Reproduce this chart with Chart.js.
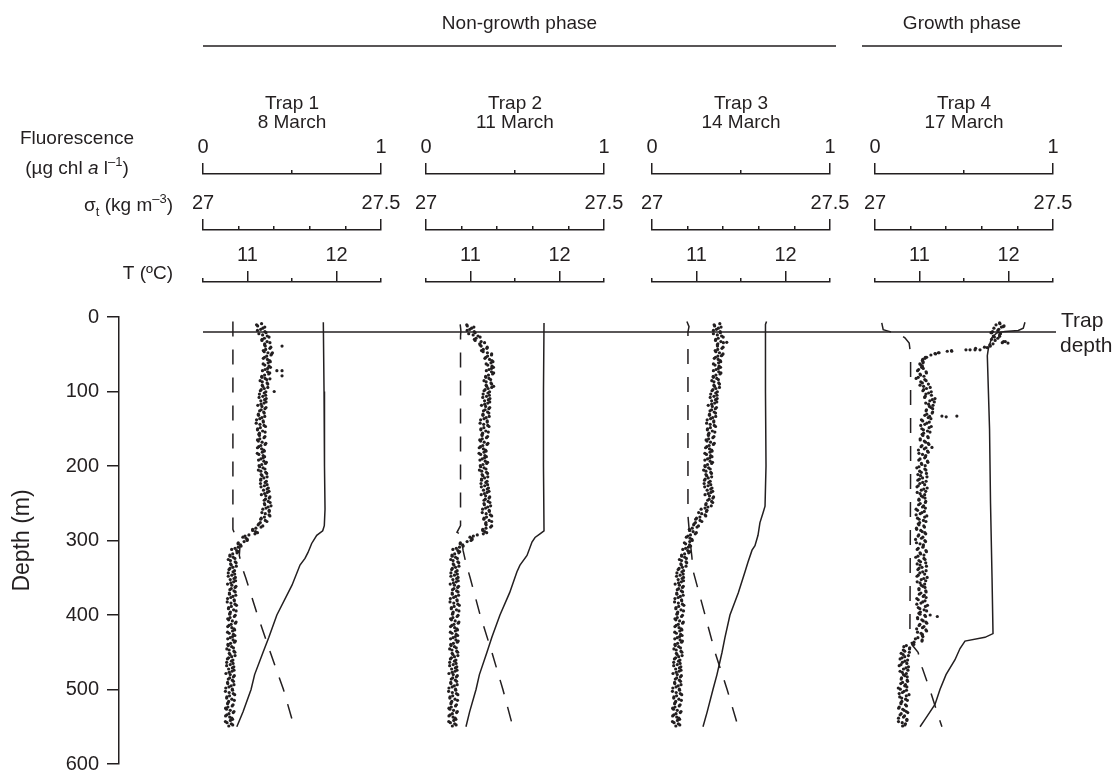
<!DOCTYPE html>
<html>
<head>
<meta charset="utf-8">
<script src="https://cdn.jsdelivr.net/npm/chart.js@4.4.1/dist/chart.umd.min.js"></script>
<style>
  html, body { margin: 0; padding: 0; background: #ffffff; }
  canvas { display: block; }
</style>
</head>
<body>
<canvas id="chart" width="1118" height="784"></canvas>
<script>
const FONT = '"Liberation Sans", Arial, Helvetica, sans-serif';
const INK = '#231f20';

// ---- axes and labels ----
const depthTicks = [0, 100, 200, 300, 400, 500, 600];
const trapDepth = 20;
const phaseNames = ['Non-growth phase', 'Growth phase'];
const trapNames = ['Trap 1', 'Trap 2', 'Trap 3', 'Trap 4'];
const trapDates = ['8 March', '11 March', '14 March', '17 March'];
const fluorTicks = [0, 0.5, 1];
const fluorLabelled = [0, 1];
const sigmaTicks = [27, 27.1, 27.2, 27.3, 27.4, 27.5];
const sigmaLabelled = [27, 27.5];
const tempTicks = [10.5, 11, 11.5, 12, 12.5];
const tempLabelled = [11, 12];

// ---- fluorescence profiles (µg chl a l-1) ----
// readings A: 3 m bins starting at 9 m
const fluorDepthsA = [
  9, 12, 15, 18, 21, 24, 27, 30, 33, 36,
  39, 42, 45, 48, 51, 54, 57, 60, 63, 66,
  69, 72, 75, 78, 81, 84, 87, 90, 93, 96,
  99, 102, 105, 108, 111, 114, 117, 120, 123, 126,
  129, 132, 135, 138, 141, 144, 147, 150, 153, 156,
  159, 162, 165, 168, 171, 174, 177, 180, 183, 186,
  189, 192, 195, 198, 201, 204, 207, 210, 213, 216,
  219, 222, 225, 228, 231, 234, 237, 240, 243, 246,
  249, 252, 255, 258, 261, 264, 267, 270, 273, 276,
  279, 282, 285, 288, 291, 294, 297, 300, 303, 306,
  309, 312, 315, 318, 321, 324, 327, 330, 333, 336,
  339, 342, 345, 348, 351, 354, 357, 360, 363, 366,
  369, 372, 375, 378, 381, 384, 387, 390, 393, 396,
  399, 402, 405, 408, 411, 414, 417, 420, 423, 426,
  429, 432, 435, 438, 441, 444, 447, 450, 453, 456,
  459, 462, 465, 468, 471, 474, 477, 480, 483, 486,
  489, 492, 495, 498, 501, 504, 507, 510, 513, 516,
  519, 522, 525, 528, 531, 534, 537, 540, 543, 546,
  549
];
// readings B: the interleaved 3 m bins
const fluorDepthsB = [
  10.5, 13.5, 16.5, 19.5, 22.5, 25.5, 28.5, 31.5, 34.5, 37.5,
  40.5, 43.5, 46.5, 49.5, 52.5, 55.5, 58.5, 61.5, 64.5, 67.5,
  70.5, 73.5, 76.5, 79.5, 82.5, 85.5, 88.5, 91.5, 94.5, 97.5,
  100.5, 103.5, 106.5, 109.5, 112.5, 115.5, 118.5, 121.5, 124.5, 127.5,
  130.5, 133.5, 136.5, 139.5, 142.5, 145.5, 148.5, 151.5, 154.5, 157.5,
  160.5, 163.5, 166.5, 169.5, 172.5, 175.5, 178.5, 181.5, 184.5, 187.5,
  190.5, 193.5, 196.5, 199.5, 202.5, 205.5, 208.5, 211.5, 214.5, 217.5,
  220.5, 223.5, 226.5, 229.5, 232.5, 235.5, 238.5, 241.5, 244.5, 247.5,
  250.5, 253.5, 256.5, 259.5, 262.5, 265.5, 268.5, 271.5, 274.5, 277.5,
  280.5, 283.5, 286.5, 289.5, 292.5, 295.5, 298.5, 301.5, 304.5, 307.5,
  310.5, 313.5, 316.5, 319.5, 322.5, 325.5, 328.5, 331.5, 334.5, 337.5,
  340.5, 343.5, 346.5, 349.5, 352.5, 355.5, 358.5, 361.5, 364.5, 367.5,
  370.5, 373.5, 376.5, 379.5, 382.5, 385.5, 388.5, 391.5, 394.5, 397.5,
  400.5, 403.5, 406.5, 409.5, 412.5, 415.5, 418.5, 421.5, 424.5, 427.5,
  430.5, 433.5, 436.5, 439.5, 442.5, 445.5, 448.5, 451.5, 454.5, 457.5,
  460.5, 463.5, 466.5, 469.5, 472.5, 475.5, 478.5, 481.5, 484.5, 487.5,
  490.5, 493.5, 496.5, 499.5, 502.5, 505.5, 508.5, 511.5, 514.5, 517.5,
  520.5, 523.5, 526.5, 529.5, 532.5, 535.5, 538.5, 541.5, 544.5, 547.5
];

const trap1FluorA = [
  0.329, 0.307, 0.336, 0.306, 0.354, 0.335, 0.371, 0.332, 0.360, 0.347,
  0.350, 0.376, 0.339, 0.365, 0.382, 0.346, 0.362, 0.378, 0.338, 0.371,
  0.363, 0.334, 0.375, 0.346, 0.331, 0.358, 0.333, 0.364, 0.336, 0.344,
  0.322, 0.344, 0.352, 0.315, 0.346, 0.354, 0.326, 0.331, 0.348, 0.318,
  0.344, 0.312, 0.331, 0.301, 0.339, 0.320, 0.351, 0.307, 0.335, 0.317,
  0.317, 0.343, 0.306, 0.332, 0.349, 0.313, 0.329, 0.345, 0.305, 0.338,
  0.338, 0.312, 0.356, 0.330, 0.318, 0.348, 0.325, 0.358, 0.332, 0.342,
  0.324, 0.349, 0.360, 0.326, 0.360, 0.371, 0.346, 0.353, 0.372, 0.344,
  0.377, 0.347, 0.366, 0.336, 0.372, 0.350, 0.376, 0.327, 0.350, 0.322,
  0.310, 0.326, 0.279, 0.295, 0.292, 0.236, 0.242, 0.248, 0.198, 0.211,
  0.198, 0.161, 0.199, 0.167, 0.152, 0.179, 0.154, 0.186, 0.159, 0.168,
  0.146, 0.169, 0.178, 0.142, 0.174, 0.183, 0.156, 0.162, 0.180, 0.151,
  0.181, 0.149, 0.168, 0.138, 0.176, 0.157, 0.188, 0.144, 0.172, 0.154,
  0.150, 0.176, 0.139, 0.165, 0.182, 0.146, 0.162, 0.178, 0.138, 0.171,
  0.166, 0.139, 0.182, 0.155, 0.142, 0.171, 0.147, 0.179, 0.152, 0.161,
  0.137, 0.160, 0.169, 0.133, 0.165, 0.174, 0.147, 0.153, 0.171, 0.142,
  0.171, 0.139, 0.158, 0.128, 0.166, 0.147, 0.178, 0.134, 0.162, 0.144,
  0.138, 0.164, 0.127, 0.153, 0.170, 0.134, 0.150, 0.166, 0.126, 0.159,
  0.145
];
const trap1FluorB = [
  0.301, 0.347, 0.324, 0.348, 0.314, 0.361, 0.345, 0.331, 0.376, 0.346,
  0.381, 0.352, 0.344, 0.386, 0.358, 0.339, 0.374, 0.366, 0.347, 0.379,
  0.349, 0.363, 0.369, 0.330, 0.349, 0.321, 0.360, 0.333, 0.364, 0.327,
  0.353, 0.317, 0.336, 0.355, 0.325, 0.343, 0.308, 0.354, 0.327, 0.341,
  0.311, 0.347, 0.319, 0.338, 0.299, 0.343, 0.322, 0.306, 0.349, 0.314,
  0.348, 0.319, 0.311, 0.353, 0.325, 0.306, 0.341, 0.333, 0.314, 0.346,
  0.325, 0.342, 0.351, 0.315, 0.337, 0.311, 0.352, 0.327, 0.360, 0.325,
  0.356, 0.323, 0.345, 0.367, 0.340, 0.361, 0.328, 0.376, 0.351, 0.367,
  0.345, 0.382, 0.354, 0.372, 0.331, 0.371, 0.345, 0.324, 0.359, 0.314,
  0.336, 0.297, 0.279, 0.306, 0.258, 0.224, 0.249, 0.231, 0.197, 0.214,
  0.180, 0.189, 0.191, 0.151, 0.170, 0.142, 0.181, 0.155, 0.187, 0.151,
  0.177, 0.142, 0.162, 0.182, 0.153, 0.172, 0.138, 0.185, 0.159, 0.174,
  0.148, 0.184, 0.156, 0.175, 0.136, 0.180, 0.159, 0.143, 0.186, 0.151,
  0.181, 0.152, 0.144, 0.186, 0.158, 0.139, 0.174, 0.166, 0.147, 0.179,
  0.153, 0.169, 0.177, 0.140, 0.161, 0.134, 0.174, 0.148, 0.180, 0.144,
  0.168, 0.133, 0.153, 0.173, 0.144, 0.163, 0.129, 0.176, 0.150, 0.165,
  0.138, 0.174, 0.146, 0.165, 0.126, 0.170, 0.149, 0.133, 0.176, 0.141,
  0.169, 0.140, 0.132, 0.174, 0.146, 0.127, 0.162, 0.154, 0.135, 0.167
];

const trap2FluorA = [
  null,  0.232, 0.256, 0.231, 0.276, 0.265, 0.304, 0.272, 0.310, 0.302,
  0.310, 0.342, 0.312, 0.345, 0.368, 0.336, 0.357, 0.376, 0.338, 0.371,
  0.368, 0.339, 0.380, 0.351, 0.336, 0.363, 0.338, 0.369, 0.341, 0.349,
  0.326, 0.348, 0.356, 0.319, 0.350, 0.358, 0.330, 0.335, 0.353, 0.323,
  0.353, 0.320, 0.338, 0.307, 0.344, 0.324, 0.354, 0.309, 0.336, 0.318,
  0.315, 0.340, 0.302, 0.327, 0.343, 0.306, 0.322, 0.338, 0.298, 0.331,
  0.329, 0.303, 0.346, 0.320, 0.307, 0.337, 0.313, 0.346, 0.319, 0.329,
  0.312, 0.336, 0.346, 0.311, 0.344, 0.354, 0.328, 0.335, 0.354, 0.326,
  0.359, 0.328, 0.347, 0.318, 0.356, 0.338, 0.369, 0.326, 0.355, 0.337,
  0.338, 0.363, 0.319, 0.330, 0.322, 0.266, 0.257, 0.253, 0.193, 0.206,
  0.188, 0.151, 0.189, 0.161, 0.147, 0.176, 0.152, 0.184, 0.157, 0.166,
  0.144, 0.167, 0.176, 0.140, 0.172, 0.181, 0.154, 0.160, 0.178, 0.149,
  0.180, 0.148, 0.167, 0.137, 0.175, 0.156, 0.187, 0.143, 0.171, 0.153,
  0.149, 0.175, 0.138, 0.164, 0.181, 0.145, 0.161, 0.177, 0.137, 0.170,
  0.165, 0.138, 0.181, 0.154, 0.141, 0.170, 0.146, 0.178, 0.151, 0.160,
  0.137, 0.160, 0.169, 0.133, 0.165, 0.174, 0.147, 0.153, 0.171, 0.142,
  0.172, 0.140, 0.159, 0.129, 0.167, 0.148, 0.179, 0.135, 0.163, 0.145,
  0.140, 0.166, 0.129, 0.155, 0.172, 0.136, 0.152, 0.168, 0.128, 0.161,
  0.148
];
const trap2FluorB = [
  0.229, 0.269, 0.246, 0.271, 0.240, 0.292, 0.281, 0.276, 0.329, 0.304,
  0.344, 0.322, 0.321, 0.369, 0.346, 0.331, 0.370, 0.365, 0.347, 0.379,
  0.354, 0.368, 0.374, 0.335, 0.354, 0.326, 0.365, 0.338, 0.369, 0.332,
  0.357, 0.321, 0.340, 0.359, 0.329, 0.347, 0.312, 0.358, 0.332, 0.346,
  0.320, 0.355, 0.326, 0.344, 0.304, 0.347, 0.325, 0.308, 0.350, 0.315,
  0.346, 0.316, 0.307, 0.348, 0.319, 0.299, 0.334, 0.326, 0.307, 0.339,
  0.316, 0.333, 0.341, 0.305, 0.326, 0.300, 0.340, 0.315, 0.347, 0.312,
  0.343, 0.309, 0.330, 0.351, 0.323, 0.343, 0.310, 0.358, 0.333, 0.349,
  0.326, 0.363, 0.335, 0.355, 0.316, 0.361, 0.340, 0.325, 0.369, 0.335,
  0.369, 0.337, 0.319, 0.341, 0.288, 0.247, 0.259, 0.231, 0.192, 0.209,
  0.170, 0.179, 0.184, 0.146, 0.166, 0.139, 0.179, 0.153, 0.185, 0.148,
  0.175, 0.140, 0.160, 0.180, 0.151, 0.170, 0.136, 0.183, 0.157, 0.172,
  0.147, 0.183, 0.155, 0.174, 0.135, 0.179, 0.158, 0.142, 0.185, 0.150,
  0.180, 0.151, 0.143, 0.185, 0.157, 0.138, 0.173, 0.165, 0.146, 0.178,
  0.152, 0.168, 0.176, 0.139, 0.160, 0.133, 0.173, 0.147, 0.179, 0.143,
  0.168, 0.133, 0.153, 0.173, 0.144, 0.163, 0.129, 0.176, 0.150, 0.165,
  0.139, 0.175, 0.147, 0.166, 0.127, 0.171, 0.150, 0.134, 0.177, 0.142,
  0.171, 0.142, 0.134, 0.176, 0.148, 0.129, 0.164, 0.156, 0.137, 0.169
];

const trap3FluorA = [
  0.381, 0.352, 0.373, 0.345, 0.384, 0.367, 0.400, 0.358, 0.387, 0.370,
  0.368, 0.393, 0.355, 0.379, 0.394, 0.357, 0.372, 0.386, 0.345, 0.377,
  0.373, 0.345, 0.387, 0.359, 0.345, 0.373, 0.348, 0.379, 0.351, 0.359,
  0.337, 0.358, 0.365, 0.327, 0.357, 0.364, 0.335, 0.339, 0.356, 0.326,
  0.357, 0.323, 0.341, 0.310, 0.347, 0.327, 0.357, 0.312, 0.339, 0.320,
  0.317, 0.342, 0.304, 0.329, 0.345, 0.308, 0.323, 0.338, 0.297, 0.329,
  0.325, 0.297, 0.340, 0.312, 0.299, 0.327, 0.303, 0.334, 0.307, 0.316,
  0.295, 0.319, 0.330, 0.296, 0.330, 0.341, 0.316, 0.323, 0.342, 0.313,
  0.341, 0.302, 0.314, 0.276, 0.306, 0.279, 0.302, 0.250, 0.270, 0.244,
  0.234, 0.253, 0.210, 0.231, 0.243, 0.202, 0.214, 0.226, 0.182, 0.211,
  0.204, 0.173, 0.213, 0.183, 0.167, 0.193, 0.166, 0.195, 0.165, 0.171,
  0.147, 0.168, 0.175, 0.138, 0.169, 0.177, 0.149, 0.154, 0.171, 0.142,
  0.172, 0.140, 0.159, 0.129, 0.167, 0.148, 0.179, 0.135, 0.163, 0.145,
  0.140, 0.166, 0.129, 0.155, 0.172, 0.136, 0.152, 0.168, 0.128, 0.161,
  0.155, 0.128, 0.171, 0.144, 0.131, 0.160, 0.136, 0.168, 0.141, 0.150,
  0.126, 0.149, 0.158, 0.122, 0.154, 0.163, 0.136, 0.142, 0.160, 0.131,
  0.160, 0.128, 0.147, 0.117, 0.155, 0.136, 0.167, 0.123, 0.151, 0.133,
  0.127, 0.153, 0.116, 0.142, 0.159, 0.123, 0.139, 0.155, 0.115, 0.148,
  0.134
];
const trap3FluorB = [
  0.349, 0.388, 0.362, 0.383, 0.345, 0.391, 0.372, 0.357, 0.401, 0.367,
  0.399, 0.369, 0.359, 0.399, 0.370, 0.350, 0.383, 0.374, 0.354, 0.385,
  0.360, 0.375, 0.382, 0.344, 0.364, 0.336, 0.375, 0.348, 0.379, 0.342,
  0.367, 0.330, 0.348, 0.366, 0.335, 0.352, 0.316, 0.362, 0.335, 0.349,
  0.323, 0.358, 0.329, 0.347, 0.307, 0.350, 0.328, 0.311, 0.353, 0.317,
  0.348, 0.318, 0.309, 0.350, 0.321, 0.301, 0.335, 0.326, 0.306, 0.337,
  0.312, 0.327, 0.335, 0.297, 0.318, 0.290, 0.330, 0.303, 0.335, 0.299,
  0.327, 0.293, 0.315, 0.337, 0.310, 0.331, 0.298, 0.346, 0.321, 0.335,
  0.304, 0.333, 0.298, 0.309, 0.262, 0.298, 0.269, 0.245, 0.280, 0.237,
  0.261, 0.226, 0.212, 0.249, 0.216, 0.193, 0.224, 0.212, 0.189, 0.217,
  0.189, 0.201, 0.206, 0.166, 0.184, 0.154, 0.191, 0.162, 0.191, 0.152,
  0.177, 0.140, 0.158, 0.177, 0.147, 0.165, 0.130, 0.176, 0.150, 0.164,
  0.139, 0.175, 0.147, 0.166, 0.127, 0.171, 0.150, 0.134, 0.177, 0.142,
  0.171, 0.142, 0.134, 0.176, 0.148, 0.129, 0.164, 0.156, 0.137, 0.169,
  0.142, 0.158, 0.166, 0.129, 0.150, 0.123, 0.163, 0.137, 0.169, 0.133,
  0.157, 0.122, 0.142, 0.162, 0.133, 0.152, 0.118, 0.165, 0.139, 0.154,
  0.127, 0.163, 0.135, 0.154, 0.115, 0.159, 0.138, 0.122, 0.165, 0.130,
  0.158, 0.129, 0.121, 0.163, 0.135, 0.116, 0.151, 0.143, 0.124, 0.156
];

const trap4FluorA = [
  0.702, 0.725, 0.668, 0.690, 0.652, 0.700, 0.671, 0.655, 0.722, 0.663,
  0.648, 0.565, 0.430, 0.356, 0.314, 0.283, 0.268, 0.270, 0.252, 0.266,
  0.271, 0.239, 0.289, 0.256, 0.243, 0.280, 0.257, 0.300, 0.273, 0.289,
  0.269, 0.301, 0.317, 0.279, 0.322, 0.333, 0.301, 0.306, 0.324, 0.287,
  0.321, 0.280, 0.299, 0.261, 0.305, 0.280, 0.316, 0.263, 0.295, 0.273,
  0.269, 0.299, 0.254, 0.284, 0.303, 0.259, 0.277, 0.295, 0.247, 0.285,
  0.279, 0.246, 0.297, 0.263, 0.247, 0.280, 0.251, 0.289, 0.256, 0.267,
  0.241, 0.268, 0.279, 0.236, 0.274, 0.285, 0.253, 0.260, 0.281, 0.247,
  0.283, 0.245, 0.267, 0.231, 0.277, 0.254, 0.291, 0.239, 0.272, 0.251,
  0.247, 0.278, 0.234, 0.265, 0.285, 0.242, 0.261, 0.280, 0.233, 0.272,
  0.269, 0.237, 0.289, 0.256, 0.241, 0.275, 0.247, 0.285, 0.253, 0.264,
  0.241, 0.268, 0.279, 0.236, 0.274, 0.285, 0.253, 0.260, 0.281, 0.247,
  0.287, 0.249, 0.271, 0.235, 0.281, 0.258, 0.295, 0.243, 0.276, 0.255,
  0.253, 0.284, 0.240, 0.271, 0.291, 0.248, 0.267, 0.286, 0.239, 0.266,
  0.269, 0.227, 0.264, 0.211, 0.176, 0.195, 0.159, 0.193, 0.158, 0.167,
  0.141, 0.168, 0.179, 0.136, 0.174, 0.185, 0.153, 0.160, 0.181, 0.147,
  0.183, 0.145, 0.167, 0.131, 0.177, 0.154, 0.191, 0.139, 0.172, 0.151,
  0.146, 0.177, 0.133, 0.164, 0.184, 0.141, 0.160, 0.179, 0.132, 0.171,
  0.155
];
const trap4FluorB = [
  0.680, 0.710, 0.695, 0.660, 0.705, 0.665, 0.690, 0.675, 0.715, 0.645,
  0.615, null,  null,  0.340, null,  0.281, 0.266, 0.270, 0.258, 0.262,
  0.245, 0.287, 0.253, 0.275, 0.231, 0.287, 0.266, 0.253, 0.310, 0.273,
  0.316, 0.286, 0.282, 0.337, 0.308, 0.285, 0.326, 0.314, 0.289, 0.324,
  0.291, 0.307, 0.314, 0.268, 0.291, 0.257, 0.304, 0.272, 0.309, 0.265,
  0.296, 0.254, 0.277, 0.299, 0.264, 0.286, 0.244, 0.299, 0.267, 0.284,
  0.253, 0.295, 0.261, 0.282, 0.235, 0.286, 0.260, 0.241, 0.292, 0.250,
  0.287, 0.252, 0.243, 0.293, 0.260, 0.237, 0.279, 0.269, 0.247, 0.285,
  0.254, 0.273, 0.283, 0.239, 0.264, 0.231, 0.279, 0.248, 0.286, 0.243,
  0.274, 0.233, 0.257, 0.280, 0.246, 0.269, 0.228, 0.284, 0.253, 0.271,
  0.243, 0.286, 0.253, 0.275, 0.229, 0.281, 0.256, 0.237, 0.289, 0.247,
  0.287, 0.252, 0.243, 0.293, 0.260, 0.237, 0.279, 0.269, 0.247, 0.285,
  0.258, 0.277, 0.287, 0.243, 0.268, 0.235, 0.283, 0.252, 0.290, 0.247,
  0.280, 0.239, 0.263, 0.286, 0.252, 0.275, 0.234, 0.290, 0.259, 0.266,
  0.241, 0.265, 0.219, 0.218, 0.162, 0.194, 0.167, 0.147, 0.188, 0.152,
  0.183, 0.154, 0.146, 0.188, 0.160, 0.141, 0.176, 0.168, 0.149, 0.181,
  0.155, 0.171, 0.179, 0.142, 0.163, 0.136, 0.176, 0.150, 0.182, 0.146,
  0.171, 0.136, 0.156, 0.176, 0.147, 0.166, 0.132, 0.179, 0.153, 0.168
];

// scattered readings off the main profile (depth m, fluorescence)
const trap1FluorExtraDepths = [39, 48, 72, 72, 79, 83, 100];
const trap1FluorExtra = [0.444, 0.390, 0.415, 0.444, 0.444, 0.376, 0.400];
const trap2FluorExtraDepths = [93];
const trap2FluorExtra = [0.380];
const trap3FluorExtraDepths = [34, 52];
const trap3FluorExtra = [0.420, 0.390];
const trap4FluorExtraDepths = [8, 13, 21, 26, 33, 35, 41, 44, 44, 44, 44, 46, 46, 48, 49, 54, 133, 134, 133, 175, 400, 402];
const trap4FluorExtra = [0.700, 0.720, 0.656, 0.700, 0.732, 0.747, 0.630, 0.590, 0.562, 0.534, 0.511, 0.431, 0.406, 0.360, 0.337, 0.290, 0.376, 0.400, 0.460, 0.320, 0.310, 0.350];

// ---- density profiles, sigma-t (kg m-3) ----
const trap1SigmaDepths = [6, 285, 290, 298, 307, 320, 335, 350, 400, 450, 500, 550];
const trap1Sigma = [27.084, 27.084, 27.088, 27.093, 27.104, 27.102, 27.109, 27.120, 27.153, 27.189, 27.226, 27.256];
const trap2SigmaDepths = [10, 18, 26, 280, 289, 292, 300, 313, 330, 350, 400, 450, 500, 550];
const trap2Sigma = [27.096, 27.098, 27.097, 27.097, 27.087, 27.098, 27.101, 27.104, 27.112, 27.124, 27.152, 27.185, 27.216, 27.244];
const trap3SigmaDepths = [6, 13, 20, 267, 300, 322, 340, 400, 450, 500, 550];
const trap3Sigma = [27.098, 27.104, 27.101, 27.101, 27.107, 27.112, 27.115, 27.149, 27.177, 27.211, 27.242];
const trap4SigmaDepths = [8, 17, 19, 25, 28, 35, 50, 200, 430, 440, 450, 470, 500, 530, 550];
const trap4Sigma = [27.019, 27.023, 27.037, 27.075, 27.084, 27.096, 27.100, 27.100, 27.098, 27.104, 27.121, 27.132, 27.154, 27.174, 27.188];

// ---- temperature profiles (ºC) ----
const trap1TempDepths = [7, 100, 200, 258, 280, 287, 293, 304, 316, 324, 333, 360, 400, 430, 450, 480, 500, 530, 550];
const trap1Temp = [11.852, 11.860, 11.865, 11.871, 11.863, 11.845, 11.778, 11.721, 11.680, 11.646, 11.590, 11.500, 11.330, 11.240, 11.175, 11.080, 11.040, 10.950, 10.880];
const trap2TempDepths = [8, 100, 200, 287, 291, 296, 302, 320, 333, 342, 370, 400, 430, 450, 480, 500, 530, 550];
const trap2Temp = [11.826, 11.820, 11.820, 11.826, 11.781, 11.725, 11.691, 11.635, 11.556, 11.522, 11.440, 11.331, 11.240, 11.185, 11.100, 11.062, 10.990, 10.949];
const trap3TempDepths = [6, 10, 100, 200, 254, 263, 276, 293, 307, 313, 329, 342, 370, 400, 430, 450, 480, 500, 530, 550];
const trap3Temp = [11.787, 11.775, 11.775, 11.781, 11.770, 11.747, 11.713, 11.691, 11.657, 11.624, 11.579, 11.545, 11.470, 11.376, 11.320, 11.287, 11.230, 11.185, 11.120, 11.073];
const trap4TempDepths = [7, 15, 18, 19.3, 21.5, 28, 43, 52, 150, 250, 350, 425, 430, 435, 445, 460, 480, 500, 520, 540, 550];
const trap4Temp = [12.185, 12.166, 12.110, 11.961, 11.867, 11.811, 11.773, 11.762, 11.787, 11.798, 11.815, 11.826, 11.736, 11.511, 11.455, 11.399, 11.298, 11.230, 11.174, 11.062, 11.006];

// ---- page geometry ----
const frame = {
  axisX: 119, plotTop: 317, plotBottom: 773, plotRight: 1060,
  panelLeft: [203, 426, 652, 875], panelWidth: 178,
  fluorBase: 174, sigmaBase: 230, tempBase: 282,
  trapLineEnd: 1056
};

const traps = [
  { fa: trap1FluorA, fb: trap1FluorB, exD: trap1FluorExtraDepths, ex: trap1FluorExtra, sD: trap1SigmaDepths, s: trap1Sigma, tD: trap1TempDepths, t: trap1Temp },
  { fa: trap2FluorA, fb: trap2FluorB, exD: trap2FluorExtraDepths, ex: trap2FluorExtra, sD: trap2SigmaDepths, s: trap2Sigma, tD: trap2TempDepths, t: trap2Temp },
  { fa: trap3FluorA, fb: trap3FluorB, exD: trap3FluorExtraDepths, ex: trap3FluorExtra, sD: trap3SigmaDepths, s: trap3Sigma, tD: trap3TempDepths, t: trap3Temp },
  { fa: trap4FluorA, fb: trap4FluorB, exD: trap4FluorExtraDepths, ex: trap4FluorExtra, sD: trap4SigmaDepths, s: trap4Sigma, tD: trap4TempDepths, t: trap4Temp }
];

function profile(depths, values) {
  const pts = [];
  depths.forEach((d, i) => { if (values[i] != null) pts.push({ x: values[i], y: d }); });
  return pts;
}

const TICK_LEN = 11;
const SHORT_TICK = 4;
const AXIS_FONT = 20;

function topAxis(min, max, tickVals, labelled, longTicks) {
  const isLong = v => longTicks.includes(v);
  return {
    type: 'linear', position: 'top', min, max,
    afterBuildTicks: s => { s.ticks = tickVals.map(v => ({ value: v })); },
    afterFit: s => { s.height = 0; s.paddingLeft = 0; s.paddingRight = 0; s.paddingTop = 0; s.paddingBottom = 0; },
    grid: {
      drawOnChartArea: false, drawTicks: true, tickLength: TICK_LEN,
      color: INK, lineWidth: 1.5, tickWidth: 1.5, tickColor: INK,
      // short minor ticks: only the part of the tick next to the axis line is inked
      tickBorderDash: ctx => (ctx.tick && !isLong(ctx.tick.value)) ? [SHORT_TICK, 40] : [],
      tickBorderDashOffset: ctx => (ctx.tick && !isLong(ctx.tick.value)) ? (SHORT_TICK + 40) - (TICK_LEN - SHORT_TICK) : 0
    },
    border: { display: true, color: INK, width: 1.5 },
    ticks: {
      autoSkip: false, maxRotation: 0, minRotation: 0, padding: 4, color: INK,
      font: { family: FONT, size: AXIS_FONT },
      callback: v => labelled.includes(v) ? String(v) : ''
    }
  };
}

const scales = {
  y: {
    type: 'linear', position: 'left', reverse: true, min: 0, max: 600,
    afterBuildTicks: s => { s.ticks = depthTicks.map(v => ({ value: v })); },
    afterFit: s => { s.width = frame.axisX; },
    grid: { drawOnChartArea: false, drawTicks: true, tickLength: 12, color: INK, lineWidth: 1.5 },
    border: { display: true, color: INK, width: 1.5 },
    ticks: { color: INK, font: { family: FONT, size: 20 }, padding: 8 },
    title: { display: true, text: 'Depth (m)', color: INK, font: { family: FONT, size: 23 }, padding: { top: 9, bottom: 0 } }
  }
};

const placements = {};
const datasets = [];
traps.forEach((tr, i) => {
  const n = i + 1;
  scales['F' + n] = topAxis(0, 1, fluorTicks, fluorLabelled, [0, 1]);
  scales['S' + n] = topAxis(27, 27.5, sigmaTicks, sigmaLabelled, [27, 27.5]);
  scales['T' + n] = topAxis(10.5, 12.5, tempTicks, tempLabelled, [11, 12]);
  placements['F' + n] = { left: frame.panelLeft[i], base: frame.fluorBase };
  placements['S' + n] = { left: frame.panelLeft[i], base: frame.sigmaBase };
  placements['T' + n] = { left: frame.panelLeft[i], base: frame.tempBase };

  datasets.push({
    label: trapNames[i] + ' σt', data: profile(tr.sD, tr.s), xAxisID: 'S' + n, yAxisID: 'y',
    showLine: true, borderColor: INK, borderWidth: 1.5, borderDash: [15, 13],
    pointRadius: 0, tension: 0, fill: false
  });
  datasets.push({
    label: trapNames[i] + ' T', data: profile(tr.tD, tr.t), xAxisID: 'T' + n, yAxisID: 'y',
    showLine: true, borderColor: INK, borderWidth: 1.5,
    pointRadius: 0, tension: 0, fill: false
  });
  datasets.push({
    label: trapNames[i] + ' fluorescence',
    data: profile(fluorDepthsA, tr.fa).concat(profile(fluorDepthsB, tr.fb), profile(tr.exD, tr.ex)),
    xAxisID: 'F' + n, yAxisID: 'y', showLine: false,
    pointRadius: 1.6, pointBackgroundColor: INK, pointBorderWidth: 0
  });
});

// each trap gets its own block of three stacked top axes
const panelAxes = {
  id: 'panelAxes',
  afterLayout(chart) {
    Object.keys(placements).forEach(id => {
      const s = chart.scales[id];
      const p = placements[id];
      s.left = p.left; s.right = p.left + frame.panelWidth; s.width = frame.panelWidth;
      s.bottom = p.base; s.top = p.base - 45; s.height = 45;
      s.configure();
    });
  }
};

function richText(ctx, parts, x, baseline, align, size) {
  const fontFor = st => (st === 'i' ? 'italic ' : '') + ((st === 'sup' || st === 'sub') ? Math.round(size * 0.68) : size) + 'px ' + FONT;
  let w = 0;
  parts.forEach(([t, st]) => { ctx.font = fontFor(st); w += ctx.measureText(t).width; });
  let cx = align === 'right' ? x - w : align === 'center' ? x - w / 2 : x;
  ctx.textAlign = 'left';
  ctx.textBaseline = 'alphabetic';
  parts.forEach(([t, st]) => {
    ctx.font = fontFor(st);
    const dy = st === 'sup' ? -size * 0.4 : st === 'sub' ? size * 0.25 : 0;
    ctx.fillText(t, cx, baseline + dy);
    cx += ctx.measureText(t).width;
  });
}

const annotations = {
  id: 'annotations',
  afterDraw(chart) {
    const ctx = chart.ctx;
    const y = chart.scales.y;
    ctx.save();
    ctx.fillStyle = INK;
    ctx.strokeStyle = INK;

    // trap depth reference line
    const ty = y.getPixelForValue(trapDepth);
    ctx.lineWidth = 1.5;
    ctx.beginPath();
    ctx.moveTo(frame.panelLeft[0], ty);
    ctx.lineTo(frame.trapLineEnd, ty);
    ctx.stroke();
    richText(ctx, [['Trap', '']], 1061, ty - 5, 'left', 21);
    richText(ctx, [['depth', '']], 1060, ty + 20, 'left', 21);

    // phase headers
    const pw = frame.panelWidth;
    const nonL = frame.panelLeft[0], nonR = frame.panelLeft[2] + pw + 6;
    const grL = frame.panelLeft[3] - 13, grR = frame.panelLeft[3] + pw + 9;
    ctx.lineWidth = 1.6;
    ctx.beginPath();
    ctx.moveTo(nonL, 46); ctx.lineTo(nonR, 46);
    ctx.moveTo(grL, 46); ctx.lineTo(grR, 46);
    ctx.stroke();
    richText(ctx, [[phaseNames[0], '']], (nonL + nonR) / 2, 29, 'center', 19);
    richText(ctx, [[phaseNames[1], '']], (grL + grR) / 2, 29, 'center', 19);

    // trap titles
    frame.panelLeft.forEach((l, i) => {
      const cx = l + pw / 2;
      richText(ctx, [[trapNames[i], '']], cx, 109, 'center', 19);
      richText(ctx, [[trapDates[i], '']], cx, 128, 'center', 19);
    });

    // axis names
    richText(ctx, [['Fluorescence', '']], 77, 144, 'center', 19);
    richText(ctx, [['(µg chl ', ''], ['a', 'i'], [' l', ''], ['–1', 'sup'], [')', '']], 77, 174, 'center', 19);
    richText(ctx, [['σ', ''], ['t', 'sub'], [' (kg m', ''], ['–3', 'sup'], [')', '']], 173, 211, 'right', 19);
    richText(ctx, [['T (ºC)', '']], 173, 279, 'right', 19);
    ctx.restore();
  }
};

new Chart(document.getElementById('chart'), {
  type: 'scatter',
  data: { datasets },
  options: {
    responsive: false,
    devicePixelRatio: 1,
    animation: false,
    events: [],
    layout: { padding: { top: frame.plotTop, bottom: 784 - frame.plotBottom, left: 0, right: 1118 - frame.plotRight } },
    plugins: { legend: { display: false }, tooltip: { enabled: false } },
    scales
  },
  plugins: [panelAxes, annotations]
});
</script>
</body>
</html>
